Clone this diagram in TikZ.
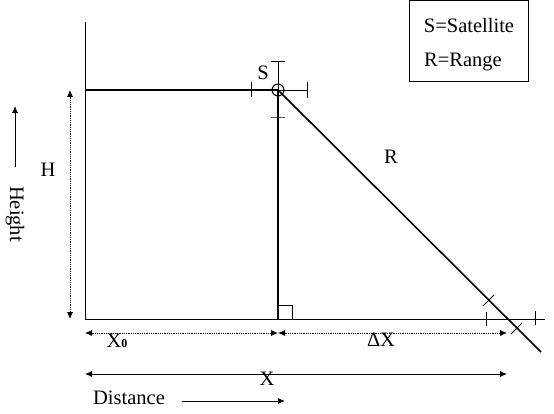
\documentclass[tikz,border=0pt]{standalone}
\usepackage{fontspec}
\setmainfont{Liberation Serif}
\usetikzlibrary{arrows.meta}
\begin{document}
\begin{tikzpicture}[x=1pt,y=-1pt,
  thick line/.style={line width=1.6pt},
  thin line/.style={line width=0.9pt},
  dimdot/.style={densely dotted,line width=0.8pt,{Latex[length=7pt,width=6pt]}-{Latex[length=7pt,width=6pt]}},
  dimsolid/.style={line width=0.8pt,{Latex[length=7pt,width=6pt]}-{Latex[length=7pt,width=6pt]}},
  lbl/.style={font=\fontsize{20.5}{24}\selectfont,inner sep=0pt},
  tick/.style={line width=1pt}]
\useasboundingbox (0,0) rectangle (554,414);
% coordinates
\coordinate (O) at (85,319);
\coordinate (Top) at (85,22);
\coordinate (Sat) at (278,90);
\coordinate (Foot) at (278,319);
\coordinate (AxEnd) at (545,319);
\coordinate (HL) at (85,90);
\coordinate (Rend) at (541,352);
% axes
\draw[thin line] (Top) -- (O) -- (AxEnd);
% horizontal line to satellite
\draw[thick line] (HL) -- (Sat);
\draw[thin line] (Sat) -- (307,90);
\draw[tick] (251,82) -- (251,97);
\draw[tick] (307,82) -- (307,98);
% vertical through satellite
\draw[thin line] (278,62) -- (Sat);
\draw[tick] (271,62) -- (285,62);
\draw[tick,gray!70!black] (271,118) -- (285,118);
\draw[thick line] (Sat) -- (Foot);
% satellite circle
\node[draw,circle,line width=1pt,minimum size=12pt,inner sep=0pt] (S) at (Sat) {};
\node[lbl] (Slbl) at (263,73) {S};
% range line
\draw[thick line] (Sat) -- (Rend);
\draw[tick] (483,306) -- (494,295);
\draw[tick] (511,334) -- (522,323);
% axis ticks
\draw[tick] (486,312) -- (486,326);
\draw[tick] (535,311) -- (535,325);
% right angle
\draw[line width=0.6pt] (278,305) -- (292,305) -- (292,319);
\node[lbl] (Rlbl) at (391,157) {R};
% H dimension
\draw[dimdot] (70,90) -- (70,319);
\node[lbl] (H) at (48,170) {H};
% Height
\node[lbl,rotate=-90] (Ht) at (15,214) {Height};
\draw[line width=0.8pt,-{Latex[length=7pt,width=6pt]}] (15,167) -- (15,106);
% X0, dX
\draw[dimdot] (85,333) -- (278,333);
\draw[dimdot] (278,333) -- (507,333);
\node[lbl] (X0) at (117,341) {X\textbf{\fontsize{12}{12}\selectfont 0}};
\node[lbl] (dX) at (381,340) {ΔX};
% X
\draw[dimsolid] (85,374) -- (507,374);
\node[lbl] (X) at (267,379) {X};
% Distance
\node[lbl] (D) at (129,398) {Distance};
\draw[line width=0.8pt,-{Latex[length=7pt,width=6pt]}] (182,401) -- (285,401);
% legend
\draw[line width=1pt] (409,0.5) rectangle (528,82);
\node[lbl] (L1) at (469,25) {S=Satellite};
\node[lbl] (L2) at (463,62) {R=Range};
\end{tikzpicture}
\end{document}
